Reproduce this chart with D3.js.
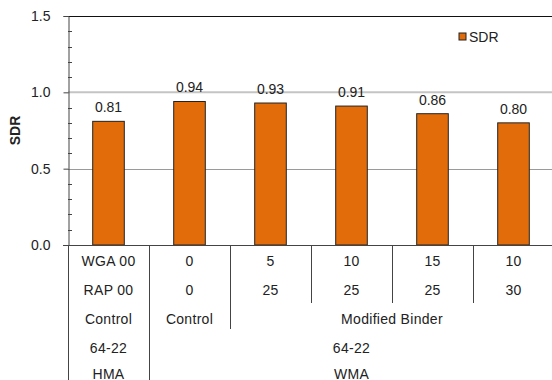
<!DOCTYPE html>
<html>
<head>
<meta charset="utf-8">
<script src="https://cdn.jsdelivr.net/npm/d3@7"></script>
<style>
  body { margin: 0; background: #fff; }
  text { font-family: "Liberation Sans", Arial, sans-serif; fill: #222; }
</style>
</head>
<body>
<svg id="chart" width="552" height="380"></svg>
<script>
// data
var categories = ["c1", "c2", "c3", "c4", "c5", "c6"];
var sdr = [0.81, 0.94, 0.93, 0.91, 0.86, 0.80];
var wgaRow = ["WGA 00", "0", "5", "10", "15", "10"];
var rapRow = ["RAP 00", "0", "25", "25", "25", "30"];
var yTicks = [0, 0.5, 1.0, 1.5];
var minorTicks = [0.1, 0.2, 0.3, 0.4, 0.6, 0.7, 0.8, 0.9, 1.1, 1.2, 1.3, 1.4];
// grouped header rows: [label, first column, last column]
var typeRow = [["Control", 0, 0], ["Control", 1, 1], ["Modified Binder", 2, 5]];
var gradeRow = [["64-22", 0, 0], ["64-22", 1, 5]];
var mixRow = [["HMA", 0, 0], ["WMA", 1, 5]];

var svg = d3.select("#chart");
var plotLeft = 68, plotRight = 554, plotTop = 16, plotBottom = 245;

var x = d3.scaleBand().domain(categories).range([plotLeft, plotRight]).paddingInner(0).paddingOuter(0);
var y = d3.scaleLinear().domain([0, 1.5]).range([plotBottom, plotTop]);
var barW = x.bandwidth() * 0.39;

// gridlines
svg.append("line")
  .attr("x1", plotLeft).attr("x2", 552).attr("y1", y(1.0)).attr("y2", y(1.0))
  .attr("stroke", "#c4c4c4").attr("stroke-width", 2);
svg.append("line")
  .attr("x1", plotLeft).attr("x2", 552).attr("y1", Math.round(y(0.5)) + 0.5).attr("y2", Math.round(y(0.5)) + 0.5)
  .attr("stroke", "#9a9a9a").attr("stroke-width", 1);
svg.append("line")
  .attr("x1", plotLeft).attr("x2", 552).attr("y1", plotTop + 0.5).attr("y2", plotTop + 0.5)
  .attr("stroke", "#111").attr("stroke-width", 1);

// y axis
var yAxis = d3.axisLeft(y).tickValues(yTicks).tickFormat(d3.format(".1f")).tickSizeOuter(0).tickSize(5).tickPadding(13);
var ya = svg.append("g").attr("transform", "translate(" + (plotLeft + 0.5) + ",0)").call(yAxis);
ya.select(".domain").attr("stroke", "#444");
ya.selectAll(".tick line").attr("stroke", "#444");
ya.selectAll("text").style("font-size", "14px").style("font-family", "Liberation Sans, Arial, sans-serif").attr("fill", "#222");

svg.append("g").selectAll("line")
  .data(minorTicks)
  .enter()
  .append("line")
  .attr("x1", plotLeft).attr("x2", plotLeft + 4)
  .attr("y1", function(d) { return Math.round(y(d)) + 0.5; })
  .attr("y2", function(d) { return Math.round(y(d)) + 0.5; })
  .attr("stroke", "#444");

svg.append("text")
  .attr("transform", "translate(20," + y(0.75) + ") rotate(-90)")
  .attr("text-anchor", "middle")
  .style("font-size", "14px")
  .style("font-weight", "bold")
  .text("SDR");

// bars
svg.append("g").selectAll("rect")
  .data(sdr)
  .enter()
  .append("rect")
  .attr("x", function(d, i) { return x(categories[i]) + (x.bandwidth() - barW) / 2; })
  .attr("y", function(d) { return y(d); })
  .attr("width", barW)
  .attr("height", function(d) { return plotBottom - y(d); })
  .attr("fill", "#e36c0a")
  .attr("stroke", "#222")
  .attr("stroke-width", 1);

svg.append("g").selectAll("text")
  .data(sdr)
  .enter()
  .append("text")
  .attr("x", function(d, i) { return x(categories[i]) + x.bandwidth() / 2; })
  .attr("y", function(d) { return y(d) - 9; })
  .attr("text-anchor", "middle")
  .style("font-size", "14px")
  .text(function(d) { return d3.format(".2f")(d); });

// bottom axis line
svg.append("line")
  .attr("x1", plotLeft - 5).attr("x2", 552).attr("y1", plotBottom + 0.5).attr("y2", plotBottom + 0.5)
  .attr("stroke", "#444");

// legend
svg.append("rect").attr("x", 459).attr("y", 33).attr("width", 7).attr("height", 7)
  .attr("fill", "#e36c0a").attr("stroke", "#222");
svg.append("text").attr("x", 469).attr("y", 42).style("font-size", "14px").text("SDR");

// category table
var rowY = [261, 290, 319, 348, 374];
function cx(a, b) { return (x(categories[a]) + x(categories[b]) + x.bandwidth()) / 2; }

function drawRow(rows, yy) {
  svg.append("g").selectAll("text")
    .data(rows)
    .enter()
    .append("text")
    .attr("x", function(d) { return cx(d[1], d[2]); })
    .attr("y", yy)
    .attr("dy", "0.35em")
    .attr("text-anchor", "middle")
    .style("font-size", "14px")
    .style("letter-spacing", "0.3px")
    .text(function(d) { return d[0]; });
}
drawRow(wgaRow.map(function(d, i) { return [d, i, i]; }), rowY[0]);
drawRow(rapRow.map(function(d, i) { return [d, i, i]; }), rowY[1]);
drawRow(typeRow, rowY[2]);
drawRow(gradeRow, rowY[3]);
drawRow(mixRow, rowY[4]);

// table separators: how far down each boundary reaches
var sepEnds = [380, 380, 329, 303, 303, 303];
svg.append("g").selectAll("line")
  .data(categories)
  .enter()
  .append("line")
  .attr("x1", function(d) { return Math.round(x(d)) + 0.5; })
  .attr("x2", function(d) { return Math.round(x(d)) + 0.5; })
  .attr("y1", plotBottom)
  .attr("y2", function(d, i) { return sepEnds[i]; })
  .attr("stroke", "#444");
</script>
</body>
</html>
